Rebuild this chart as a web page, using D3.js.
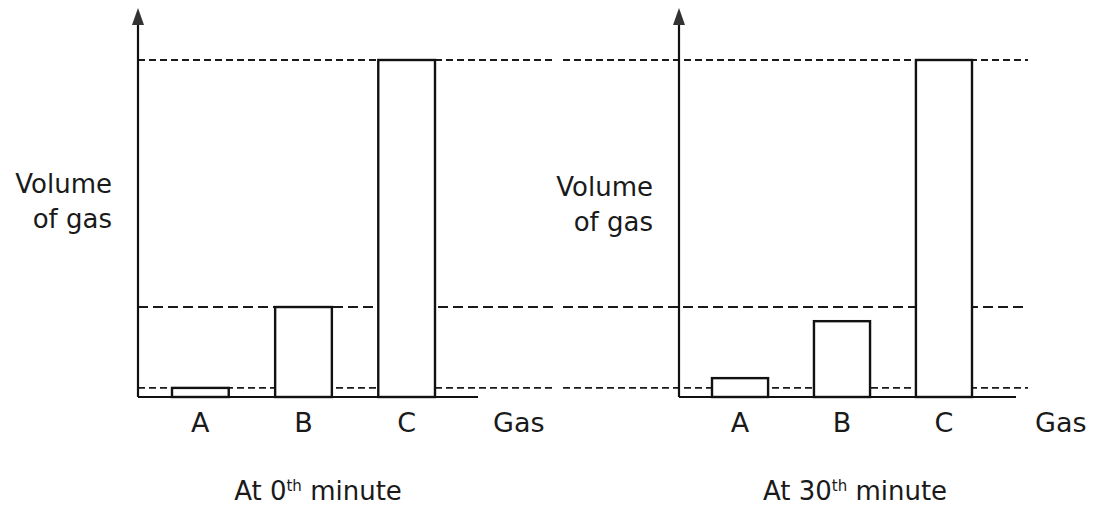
<!DOCTYPE html>
<html lang="en">
<head>
    <meta charset="UTF-8">
    <title>Volume of gas</title>
    <script src="https://cdn.jsdelivr.net/npm/d3@7"></script>
    <style>
        body { margin: 0; background: #fff; }
        text { font-family: "DejaVu Sans", Arial, sans-serif; fill: #1a1a1a; }
    </style>
</head>
<body>
    <svg width="1093" height="506" id="mainsvg"></svg>
    <script>
        // data (arbitrary units, C = 100)
        const categories = ['A', 'B', 'C'];
        const volume0 = [2.7, 26.7, 100];
        const volume30 = [5.6, 22.5, 100];
        const refLevels = [100, 26.7, 2.7];   // dashed guide lines, taken from the 0th minute bars
        const titles = ['At 0', 'At 30'];

        const svg = d3.select('#mainsvg');
        const y = d3.scaleLinear().domain([0, 100]).range([397, 60]);

        const panels = [
            { values: volume0, title: titles[0], axisX: 138, band: [172, 435], dashFrom: 138, dashTo: 553,
              baseTo: 478, gasX: 493, labelX: 112, labelY: 193, titleX: 318 },
            { values: volume30, title: titles[1], axisX: 679, band: [712, 972], dashFrom: 563, dashTo: 1028,
              baseTo: 1016, gasX: 1035, labelX: 653, labelY: 196, titleX: 855 }
        ];

        panels.forEach(p => {
            const g = svg.append('g');
            const x = d3.scaleBand().domain(categories).range(p.band).paddingInner(0.45).paddingOuter(0);

            // dashed guide lines
            g.selectAll('line.ref').data(refLevels).join('line')
                .attr('class', 'ref')
                .attr('x1', p.dashFrom).attr('x2', p.dashTo)
                .attr('y1', d => y(d)).attr('y2', d => y(d))
                .attr('stroke', '#1a1a1a')
                .attr('stroke-width', (d, i) => i === 0 ? 2.2 : 1.8)
                .attr('stroke-dasharray', (d, i) => i === 1 ? '10,5' : '7,4');

            // bars
            g.selectAll('rect').data(p.values).join('rect')
                .attr('x', (d, i) => x(categories[i]))
                .attr('y', d => y(d))
                .attr('width', x.bandwidth())
                .attr('height', d => y(0) - y(d))
                .attr('fill', '#fff')
                .attr('stroke', '#111')
                .attr('stroke-width', 2.4);

            // baseline
            g.append('line')
                .attr('x1', p.axisX).attr('x2', p.baseTo)
                .attr('y1', y(0)).attr('y2', y(0))
                .attr('stroke', '#111').attr('stroke-width', 2.2);

            // y axis with arrow
            g.append('line')
                .attr('x1', p.axisX).attr('x2', p.axisX)
                .attr('y1', 20).attr('y2', y(0))
                .attr('stroke', '#111').attr('stroke-width', 2.2);
            g.append('path')
                .attr('d', `M${p.axisX},8 L${p.axisX - 6},25 L${p.axisX + 6},25 Z`)
                .attr('fill', '#333');

            // category labels
            g.selectAll('text.cat').data(categories).join('text')
                .attr('class', 'cat')
                .attr('x', d => x(d) + x.bandwidth() / 2)
                .attr('y', 432)
                .attr('text-anchor', 'middle')
                .attr('font-size', 27)
                .text(d => d);

            g.append('text')
                .attr('x', p.gasX).attr('y', 432)
                .attr('font-size', 27)
                .text('Gas');

            // y label
            const yl = g.append('text')
                .attr('text-anchor', 'end')
                .attr('font-size', 26);
            yl.append('tspan').attr('x', p.labelX).attr('y', p.labelY).text('Volume');
            yl.append('tspan').attr('x', p.labelX).attr('y', p.labelY + 35).text('of gas');

            // panel title with superscript
            const t = g.append('text')
                .attr('x', p.titleX).attr('y', 500)
                .attr('text-anchor', 'middle')
                .attr('font-size', 26);
            t.append('tspan').text(p.title);
            t.append('tspan').attr('dy', -9).attr('font-size', 15).text('th');
            t.append('tspan').attr('dy', 9).text(' minute');
        });
    </script>
</body>
</html>
